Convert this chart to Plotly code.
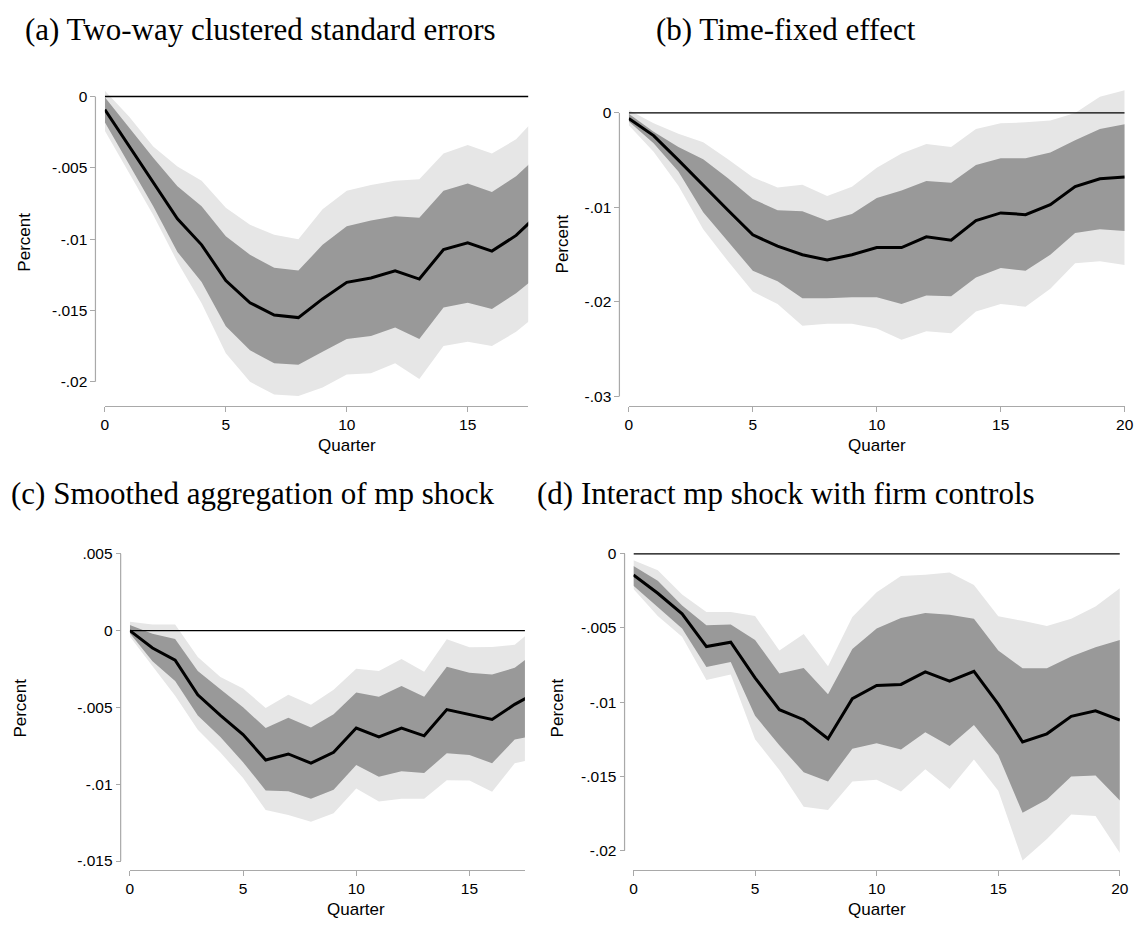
import plotly.graph_objects as go

W, H = 1143, 926

quarters = list(range(21))

# (a) Two-way clustered standard errors (visible up to ~17.5)
a_est = [-0.00092, -0.0035, -0.0060, -0.00858, -0.0104, -0.0129, -0.01446, -0.01532, -0.0155, -0.01419,
         -0.01303, -0.01273, -0.01223, -0.0128, -0.01073, -0.01026, -0.01084, -0.00974, -0.00812]
a_in_hi = [-0.00005, -0.0022, -0.0043, -0.0063, -0.0077, -0.0098, -0.0111, -0.0120, -0.0122, -0.0104,
           -0.0091, -0.0087, -0.0084, -0.0085, -0.0066, -0.0061, -0.0067, -0.0056, -0.0040]
a_in_lo = [-0.0018, -0.0048, -0.0077, -0.0109, -0.0130, -0.0161, -0.0178, -0.0187, -0.0188, -0.0179,
           -0.0170, -0.0168, -0.0162, -0.0170, -0.0148, -0.01446, -0.0149, -0.0138, -0.0124]
a_out_hi = [0.0004, -0.0014, -0.0035, -0.0049, -0.0059, -0.0078, -0.0090, -0.0097, -0.0100, -0.0079,
            -0.0066, -0.0062, -0.0059, -0.0058, -0.0040, -0.0034, -0.0040, -0.0030, -0.0012]
a_out_lo = [-0.0024, -0.0054, -0.0083, -0.0116, -0.0145, -0.0180, -0.0200, -0.0209, -0.0210, -0.0204,
            -0.0195, -0.0194, -0.0187, -0.0198, -0.0175, -0.0172, -0.0175, -0.0165, -0.0151]

# (b) Time-fixed effect
b_est = [-0.0006, -0.0024, -0.0050, -0.0077, -0.0103, -0.0129, -0.0141, -0.0150, -0.01556, -0.0150,
         -0.01424, -0.01424, -0.0131, -0.01347, -0.01138, -0.01058, -0.01076, -0.0097, -0.0078, -0.00696, -0.00679]
b_in_hi = [-0.0001, -0.0020, -0.0036, -0.0049, -0.0069, -0.0091, -0.0103, -0.0104, -0.0114, -0.0107,
           -0.0090, -0.0082, -0.0072, -0.0074, -0.0055, -0.0048, -0.0048, -0.0042, -0.0029, -0.0017, -0.0012]
b_in_lo = [-0.0009, -0.0032, -0.0062, -0.0105, -0.0136, -0.0167, -0.0178, -0.0196, -0.0196, -0.0195,
           -0.0195, -0.0202, -0.0193, -0.0194, -0.0174, -0.0164, -0.0167, -0.0150, -0.0127, -0.0123, -0.0125]
b_out_hi = [0.0003, -0.0011, -0.0022, -0.0031, -0.0049, -0.0068, -0.0079, -0.0076, -0.0088, -0.0078,
            -0.0058, -0.0043, -0.0033, -0.0036, -0.0017, -0.0011, -0.0010, -0.0008, 0.0, 0.0017, 0.0024]
b_out_lo = [-0.0013, -0.0041, -0.0077, -0.0123, -0.0157, -0.0189, -0.0202, -0.0225, -0.0223, -0.0223,
            -0.0228, -0.0240, -0.0231, -0.0233, -0.0210, -0.0202, -0.0205, -0.0186, -0.0159, -0.0157, -0.0161]

# (c) Smoothed aggregation of mp shock (visible up to ~17.4)
c_est = [0.0, -0.00113, -0.00193, -0.00418, -0.00552, -0.00677, -0.00842, -0.00803, -0.00863, -0.00792,
         -0.00634, -0.00692, -0.00634, -0.00685, -0.00514, -0.00546, -0.00578, -0.0048, -0.0040]
c_in_hi = [0.00036, -0.0002, -0.00054, -0.00263, -0.00381, -0.00499, -0.00634, -0.00567, -0.0063, -0.00544,
           -0.00403, -0.0043, -0.0036, -0.0043, -0.00236, -0.00274, -0.00285, -0.00242, -0.0013]
c_in_lo = [-0.00017, -0.0020, -0.00328, -0.00552, -0.00692, -0.00857, -0.0104, -0.01045, -0.01094, -0.01036,
           -0.00874, -0.00951, -0.00916, -0.00927, -0.00799, -0.00809, -0.00863, -0.00709, -0.0068]
c_out_hi = [0.00058, 0.0004, 0.0004, -0.00171, -0.00302, -0.00377, -0.00503, -0.00418, -0.00482, -0.00385,
            -0.00248, -0.00263, -0.00184, -0.00268, -0.00056, -0.00109, -0.00107, -0.00092, 0.0003]
c_out_lo = [-0.00039, -0.00231, -0.00424, -0.00645, -0.00794, -0.00959, -0.01167, -0.01201, -0.01244, -0.01188,
            -0.01028, -0.01113, -0.01094, -0.01094, -0.00974, -0.00976, -0.01049, -0.00863, -0.0083]

# (d) Interact mp shock with firm controls
d_est = [-0.00142, -0.00266, -0.00404, -0.00625, -0.00596, -0.00836, -0.01051, -0.01118, -0.01246, -0.00976,
         -0.00887, -0.0088, -0.00796, -0.00858, -0.00792, -0.01013, -0.01268, -0.01213, -0.01095, -0.01058, -0.0112]
d_in_hi = [-0.00082, -0.00182, -0.00348, -0.00481, -0.00477, -0.00581, -0.00807, -0.00769, -0.00947, -0.00641,
           -0.00503, -0.00432, -0.00399, -0.0041, -0.00437, -0.00652, -0.00772, -0.00772, -0.00692, -0.0063, -0.00581]
d_in_lo = [-0.00215, -0.00359, -0.00503, -0.00763, -0.00729, -0.01091, -0.0129, -0.01472, -0.01534, -0.01313,
           -0.01277, -0.01319, -0.01202, -0.01295, -0.01153, -0.01357, -0.01745, -0.01656, -0.01501, -0.01494, -0.01663]
d_out_hi = [-0.00044, -0.00111, -0.00275, -0.00392, -0.00392, -0.00419, -0.00652, -0.00541, -0.00758, -0.00426,
            -0.00259, -0.00149, -0.00142, -0.00126, -0.00211, -0.00421, -0.00452, -0.00486, -0.00437, -0.00355, -0.00233]
d_out_lo = [-0.00237, -0.00419, -0.00559, -0.00851, -0.00814, -0.0125, -0.01457, -0.01705, -0.01727, -0.01534,
            -0.01523, -0.01601, -0.01452, -0.01585, -0.01386, -0.01596, -0.02067, -0.01922, -0.01756, -0.01767, -0.02016]

x_ticks = [0, 5, 10, 15, 20]
a_yticks = [0, -0.005, -0.01, -0.015, -0.02]
a_ylabels = ["0", "-.005", "-.01", "-.015", "-.02"]
b_yticks = [0, -0.01, -0.02, -0.03]
b_ylabels = ["0", "-.01", "-.02", "-.03"]
c_yticks = [0.005, 0, -0.005, -0.01, -0.015]
c_ylabels = [".005", "0", "-.005", "-.01", "-.015"]
d_yticks = [0, -0.005, -0.01, -0.015, -0.02]
d_ylabels = ["0", "-.005", "-.01", "-.015", "-.02"]

titles = ["(a) Two-way clustered standard errors", "(b) Time-fixed effect",
          "(c) Smoothed aggregation of mp shock", "(d) Interact mp shock with firm controls"]

panels = [
    dict(est=a_est, in_hi=a_in_hi, in_lo=a_in_lo, out_hi=a_out_hi, out_lo=a_out_lo, yt=a_yticks, yl=a_ylabels),
    dict(est=b_est, in_hi=b_in_hi, in_lo=b_in_lo, out_hi=b_out_hi, out_lo=b_out_lo, yt=b_yticks, yl=b_ylabels),
    dict(est=c_est, in_hi=c_in_hi, in_lo=c_in_lo, out_hi=c_out_hi, out_lo=c_out_lo, yt=c_yticks, yl=c_ylabels),
    dict(est=d_est, in_hi=d_in_hi, in_lo=d_in_lo, out_hi=d_out_hi, out_lo=d_out_lo, yt=d_yticks, yl=d_ylabels),
]

# pixel geometry of each panel
frames = [
    dict(x0=102, xunit=24.47, xr=(0, 17.5), yref=((0, 92.7), (-0.02, 381.7)), yr=(-0.0212, 0.0006),
         yax=92.5, xax=406, pct=21, pct_y=240, qy=446.5, tx=259, ty=25),
    dict(x0=632, xunit=25.08, xr=(0, 20), yref=((0, 109.3), (-0.03, 396.7)), yr=(-0.0302, 0.0026),
         yax=622.5, xax=406, pct=565, pct_y=242, qy=446.5, tx=791, ty=25),
    dict(x0=127.3, xunit=22.9, xr=(0, 17.45), yref=((0.005, 556), (-0.015, 867.3)), yr=(-0.0152, 0.0052),
         yax=118, xax=876, pct=17, pct_y=712, qy=916.5, tx=251, ty=495),
    dict(x0=636.7, xunit=24.6, xr=(0, 20), yref=((0, 556), (-0.02, 856.7)), yr=(-0.0209, 0.0003),
         yax=627.7, xax=876, pct=560, pct_y=712, qy=916.5, tx=791, ty=495),
]

LIGHT = "#e6e6e6"
DARK = "#999999"
AXIS = "#a9a9a9"
SANS = "Liberation Sans, Arial, Helvetica, sans-serif"
SERIF = "Liberation Serif, Times New Roman, serif"


def fx(px):
    return px / W


def fy(py):
    return 1 - py / H


fig = go.Figure()
layout = dict(shapes=[], annotations=[])

for i, (p, f) in enumerate(zip(panels, frames), start=1):
    xa = "x" if i == 1 else f"x{i}"
    ya = "y" if i == 1 else f"y{i}"
    xs = quarters[:len(p["est"])]

    # 90% band, then 68% band on top
    for lo, hi, col in [(p["out_lo"], p["out_hi"], LIGHT), (p["in_lo"], p["in_hi"], DARK)]:
        fig.add_trace(go.Scatter(x=xs, y=lo, mode="lines", line=dict(width=0), xaxis=xa, yaxis=ya,
                                 showlegend=False, hoverinfo="skip"))
        fig.add_trace(go.Scatter(x=xs, y=hi, mode="lines", line=dict(width=0), fill="tonexty",
                                 fillcolor=col, xaxis=xa, yaxis=ya, showlegend=False, hoverinfo="skip"))
    fig.add_trace(go.Scatter(x=[xs[0], xs[-1]], y=[0, 0], mode="lines", line=dict(color="black", width=1.3),
                             xaxis=xa, yaxis=ya, showlegend=False, hoverinfo="skip"))
    fig.add_trace(go.Scatter(x=xs, y=p["est"], mode="lines", line=dict(color="black", width=3),
                             xaxis=xa, yaxis=ya, showlegend=False))

    # domains from pixel geometry
    xlo, xhi = f["xr"]
    xdom = [fx(f["x0"] + xlo * f["xunit"]), fx(f["x0"] + xhi * f["xunit"])]
    (v1, p1), (v2, p2) = f["yref"]
    sc = (p2 - p1) / (v1 - v2)
    ylo, yhi = f["yr"]
    top = p1 - (yhi - v1) * sc
    bot = p1 + (v1 - ylo) * sc
    ydom = [fy(bot), fy(top)]

    tickfont = dict(family=SANS, size=15.5, color="black")
    layout["xaxis" if i == 1 else f"xaxis{i}"] = dict(
        domain=xdom, range=list(f["xr"]), anchor="free", position=fy(f["xax"]),
        tickvals=x_ticks, ticks="outside", ticklen=5, tickcolor=AXIS, tickwidth=1.2,
        showline=True, linecolor=AXIS, linewidth=1.2, showgrid=False, zeroline=False,
        tickfont=tickfont, fixedrange=True)
    layout["yaxis" if i == 1 else f"yaxis{i}"] = dict(
        domain=ydom, range=list(f["yr"]), anchor="free", position=fx(f["yax"]),
        tickvals=p["yt"], ticktext=p["yl"], ticks="outside", ticklen=5, tickcolor=AXIS, tickwidth=1.2,
        showline=False, showgrid=False, zeroline=False, tickfont=tickfont, fixedrange=True)

    # y axis line only spans the labelled ticks
    layout["shapes"].append(dict(type="line", xref="paper", yref=ya, x0=fx(f["yax"]), x1=fx(f["yax"]),
                                 y0=min(p["yt"]), y1=max(p["yt"]), line=dict(color=AXIS, width=1.2)))

    layout["annotations"] += [
        dict(text=titles[i - 1], xref="paper", yref="paper", x=fx(f["tx"]), y=fy(f["ty"]),
             xanchor="center", yanchor="middle", showarrow=False,
             font=dict(family=SERIF, size=31, color="black")),
        dict(text="Percent", xref="paper", yref="paper", x=fx(f["pct"]), y=fy(f["pct_y"]),
             xanchor="center", yanchor="middle", textangle=-90, showarrow=False,
             font=dict(family=SANS, size=17, color="black")),
        dict(text="Quarter", xref=xa, yref="paper", x=10, y=fy(f["qy"]),
             xanchor="center", yanchor="middle", showarrow=False,
             font=dict(family=SANS, size=17, color="black")),
    ]

fig.update_layout(
    width=W, height=H,
    margin=dict(l=0, r=0, t=0, b=0),
    paper_bgcolor="white", plot_bgcolor="white",
    showlegend=False,
    **layout,
)

fig.write_html("out.html", config={"displayModeBar": False},
               post_script="document.body.style.margin='0';")
